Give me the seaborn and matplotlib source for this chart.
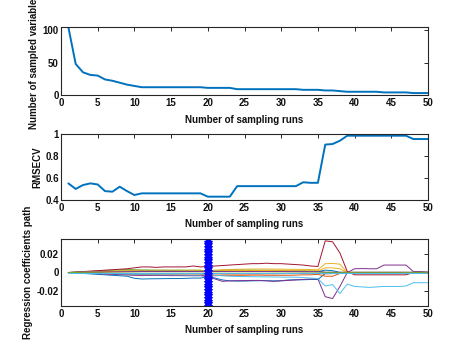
import numpy as np
import pandas as pd
import matplotlib
matplotlib.use("Agg")
import matplotlib.pyplot as plt
import seaborn as sns

# ---------------- data ----------------
runs = list(range(1, 51))

n_vars = [105, 48, 35, 31, 30, 24, 22, 19, 16, 14,
          12, 12, 12, 12, 12, 12, 12, 12, 12, 11,
          11, 11, 11, 9, 9, 9, 9, 9, 9, 9,
          9, 9, 8, 8, 8, 7, 7, 6, 5, 5,
          5, 5, 5, 4, 4, 4, 4, 3, 3, 3]

rmsecv = [0.55, 0.50, 0.535, 0.55, 0.54, 0.48, 0.475, 0.52, 0.48, 0.445,
          0.46, 0.46, 0.46, 0.46, 0.46, 0.46, 0.46, 0.46, 0.46, 0.43,
          0.43, 0.43, 0.43, 0.525, 0.525, 0.525, 0.525, 0.525, 0.525, 0.525,
          0.525, 0.525, 0.56, 0.555, 0.555, 0.90, 0.905, 0.935, 0.98, 0.98,
          0.98, 0.98, 0.98, 0.98, 0.98, 0.98, 0.98, 0.95, 0.95, 0.95]

coef_1 = [0, -0.0005, -0.001, -0.0015, -0.002, -0.0025, -0.003, -0.0035, -0.004, -0.0062,
          -0.007, -0.0068, -0.0067, -0.0066, -0.0065, -0.0065, -0.0063, -0.006, -0.006, -0.0045,
          -0.006, -0.008, -0.009, -0.0092, -0.0092, -0.009, -0.0088, -0.0088, -0.009, -0.0088,
          -0.008, -0.0078, -0.0078, -0.0075, -0.0075, -0.001, -0.0005, 0, 0, 0,
          0, 0, 0, 0, 0, 0, 0, 0, 0, 0]
coef_2 = [0, -0.0002, -0.0005, -0.0008, -0.001, -0.0013, -0.0016, -0.0018, -0.002, -0.0025,
          -0.003, -0.003, -0.003, -0.0032, -0.0033, -0.0033, -0.0033, -0.0032, -0.003, -0.0035,
          -0.0035, -0.003, -0.003, -0.003, -0.003, -0.0028, -0.0028, -0.003, -0.003, -0.003,
          -0.003, -0.0028, -0.0025, -0.0025, -0.002, -0.004, -0.004, -0.001, 0, 0,
          0, 0, 0, 0, 0, 0, 0, 0, 0, 0]
coef_3 = [0, 0.0003, 0.0006, 0.0009, 0.0012, 0.0015, 0.0017, 0.0019, 0.002, 0.0022,
          0.0022, 0.0022, 0.0023, 0.0023, 0.0023, 0.0024, 0.0024, 0.0025, 0.0025, 0.002,
          0.0025, 0.003, 0.0032, 0.0035, 0.0036, 0.0037, 0.0038, 0.0038, 0.0037, 0.0036,
          0.0035, 0.0034, 0.0033, 0.0032, 0.003, 0.0095, 0.0097, 0.009, 0, 0,
          0, 0, 0, 0, 0, 0, 0, 0, 0, 0]
coef_4 = [0, -0.0003, -0.0006, -0.001, -0.0013, -0.0016, -0.002, -0.0023, -0.0026, -0.003,
          -0.003, -0.003, -0.003, -0.0032, -0.0033, -0.0033, -0.0034, -0.0035, -0.0035, -0.004,
          -0.007, -0.0095, -0.009, -0.0088, -0.0087, -0.0085, -0.0085, -0.009, -0.0095, -0.009,
          -0.0085, -0.008, -0.0075, -0.007, -0.007, -0.026, -0.028, -0.015, 0.0, 0.004,
          0.0042, 0.004, 0.004, 0.008, 0.008, 0.008, 0.008, 0.001, 0.001, 0.0005]
coef_5 = [0, 0.0004, 0.0008, 0.0012, 0.0016, 0.002, 0.0025, 0.003, 0.0032, 0.003,
          0.0028, 0.0027, 0.0026, 0.0026, 0.0025, 0.0025, 0.0024, 0.0024, 0.0023, 0.0015,
          0.002, 0.0022, 0.0024, 0.0025, 0.0025, 0.0025, 0.0024, 0.0024, 0.0023, 0.0022,
          0.002, 0.002, 0.0018, 0.0016, 0.0015, 0.0003, 0.0003, 0.0003, 0.0003, 0.0003,
          0.0003, 0.0003, 0.0003, 0.0003, 0.0003, 0.0003, 0.0003, 0.0003, 0.0003, 0.0003]
coef_6 = [0, -0.0002, -0.0004, -0.0006, -0.0008, -0.001, -0.0012, -0.0014, -0.0016, -0.002,
          -0.0022, -0.0023, -0.0024, -0.0025, -0.0025, -0.0026, -0.0027, -0.0028, -0.0028, -0.001,
          -0.003, -0.0035, -0.004, -0.0042, -0.0044, -0.0045, -0.0046, -0.0047, -0.0048, -0.0049,
          -0.005, -0.005, -0.0055, -0.006, -0.0065, -0.0145, -0.013, -0.0225, -0.0125, -0.015,
          -0.0155, -0.016, -0.0155, -0.015, -0.015, -0.015, -0.0145, -0.011, -0.011, -0.011]
coef_7 = [0, 0.0005, 0.001, 0.0015, 0.002, 0.0025, 0.003, 0.0035, 0.004, 0.005,
          0.006, 0.006, 0.0055, 0.006, 0.006, 0.006, 0.006, 0.007, 0.006, 0.0065,
          0.007, 0.0075, 0.008, 0.0085, 0.009, 0.0095, 0.0095, 0.01, 0.0095, 0.0095,
          0.009, 0.0085, 0.008, 0.007, 0.0065, 0.034, 0.033, 0.021, 0.001, -0.0025,
          -0.0025, -0.0025, -0.0025, -0.0025, -0.0025, -0.0025, -0.0025, 0, 0, 0]
coef_8 = [0, 0.0002, 0.0004, 0.0006, 0.0008, 0.001, 0.0011, 0.0012, 0.0013, 0.0014,
          0.0015, 0.0015, 0.0015, 0.0016, 0.0016, 0.0016, 0.0016, 0.0016, 0.0016, 0.001,
          0.0015, 0.0016, 0.0016, 0.0017, 0.0017, 0.0017, 0.0016, 0.0016, 0.0015, 0.0015,
          0.0014, 0.0013, 0.0012, 0.0011, 0.001, 0.0025, 0.002, 0, 0, 0,
          0, 0, 0, 0, 0, 0, 0, 0, 0, 0]
coef_9 = [0, -0.0001, -0.0003, -0.0005, -0.0007, -0.0009, -0.001, -0.0011, -0.0012, -0.0013,
          -0.0014, -0.0014, -0.0014, -0.0015, -0.0015, -0.0015, -0.0015, -0.0015, -0.0015, -0.0012,
          -0.0015, -0.0016, -0.0016, -0.0016, -0.0016, -0.0015, -0.0015, -0.0014, -0.0014, -0.0013,
          -0.0012, -0.0011, -0.001, -0.001, -0.0009, -0.0015, -0.0012, 0, 0, 0,
          0, 0, 0, 0, 0, 0, 0, 0, 0, 0]
coef_10 = [0, 0.0002, 0.0004, 0.0006, 0.0008, 0.001, 0.0012, 0.0014, 0.0015, 0.0016,
           0.0016, 0.0016, 0.0017, 0.0017, 0.0017, 0.0017, 0.0018, 0.0018, 0.0018, 0.0012,
           0.0018, 0.002, 0.0021, 0.0022, 0.0022, 0.0022, 0.0022, 0.0021, 0.0021, 0.002,
           0.002, 0.0019, 0.0018, 0.0017, 0.0016, 0.005, 0.005, 0.004, 0, 0,
           0, 0, 0, 0, 0, 0, 0, 0, 0, 0]
coef_11 = [0, 0.0001, 0.0002, 0.0003, 0.0004, 0.0005, 0.0006, 0.0007, 0.0008, 0.0009,
           0.001, 0.001, 0.001, 0.001, 0.001, 0.001, 0.001, 0.001, 0.001, 0.0008,
           0.001, 0.001, 0.001, 0.001, 0.001, 0.001, 0.001, 0.001, 0.001, 0.001,
           0.0009, 0.0009, 0.0008, 0.0008, 0.0008, 0.0002, 0.0002, 0.0002, 0.0002, 0.0002,
           0.0002, 0.0002, 0.0002, 0.0002, 0.0002, 0.0002, 0.0002, 0.0002, 0.0002, 0.0002]
coef_12 = [0, -0.0001, -0.0002, -0.0003, -0.0004, -0.0005, -0.0006, -0.0006, -0.0007, -0.0007,
           -0.0008, -0.0008, -0.0008, -0.0008, -0.0008, -0.0008, -0.0008, -0.0008, -0.0008, -0.0006,
           -0.0008, -0.0008, -0.0008, -0.0008, -0.0008, -0.0008, -0.0008, -0.0008, -0.0007, -0.0007,
           -0.0007, -0.0007, -0.0006, -0.0006, -0.0006, -0.0002, -0.0002, -0.0002, -0.0002, -0.0002,
           -0.0002, -0.0002, -0.0002, -0.0002, -0.0002, -0.0002, -0.0002, -0.0002, -0.0002, -0.0002]
coef_13 = [0, 0, 0, 0, 0, 0, 0, 0, 0, 0,
           0, 0, 0, 0, 0, 0, 0, 0, 0, 0,
           0, 0, 0, 0, 0, 0, 0, 0, 0, 0,
           0, 0, 0, 0, 0, 0, 0, 0, 0, 0,
           0, 0, 0, 0, 0, 0, 0, 0, 0, 0]

coef_paths = [coef_1, coef_2, coef_3, coef_4, coef_5, coef_6, coef_7,
              coef_8, coef_9, coef_10, coef_11, coef_12, coef_13]
matlab_colors = ["#0072BD", "#D95319", "#EDB120", "#7E2F8E", "#77AC30", "#4DBEEE", "#A2142F"]
coef_colors = [matlab_colors[i % 7] for i in range(len(coef_paths))]

best_run = 20
x_ticks = [0, 5, 10, 15, 20, 25, 30, 35, 40, 45, 50]
xlabel = "Number of sampling runs"
ylabels = ["Number of sampled variables", "RMSECV", "Regression coefficients path"]

# ---------------- style ----------------
sns.set_theme(style="white")
plt.rcParams["font.family"] = ["Liberation Sans", "DejaVu Sans"]
plt.rcParams["font.weight"] = "bold"
plt.rcParams["axes.labelweight"] = "bold"

W, H = 473, 355
fig = plt.figure(figsize=(W / 100, H / 100), dpi=100)

def px_axes(left, top, right, bottom):
    return fig.add_axes([left / W, 1 - bottom / H, (right - left) / W, (bottom - top) / H])

ax1 = px_axes(61, 27, 428, 95)
ax2 = px_axes(61, 133.5, 428, 200)
ax3 = px_axes(61, 239, 428, 306)

line_col = "#0072BD"
sns.lineplot(x=runs, y=n_vars, ax=ax1, color=line_col, lw=1.4)
sns.lineplot(x=runs, y=rmsecv, ax=ax2, color=line_col, lw=1.4)

for path, col in zip(coef_paths, coef_colors):
    sns.lineplot(x=runs, y=path, ax=ax3, color=col, lw=0.7)

ylim3 = (-0.036, 0.036)
star_y = np.linspace(ylim3[0], ylim3[1], 26)
ax3.plot([best_run] * len(star_y), star_y, color="#0000FF", marker="*",
         markersize=6.5, markeredgewidth=0.8, lw=1.0, clip_on=True)

ax1.set_ylim(0, 105)
ax1.set_yticks([0, 50, 100])
ax2.set_ylim(0.4, 1.0)
ax2.set_yticks([0.4, 0.6, 0.8, 1.0])
ax2.set_yticklabels(["0.4", "0.6", "0.8", "1"])
ax3.set_ylim(*ylim3)
ax3.set_yticks([-0.02, 0, 0.02])
ax3.set_yticklabels(["-0.02", "0", "0.02"])

label_x = [-0.074, -0.065, -0.09]
for ax, yl, lx in zip([ax1, ax2, ax3], ylabels, label_x):
    ax.set_xlim(0, 50)
    ax.set_xticks(x_ticks)
    ax.set_xticklabels([str(t) for t in x_ticks])
    for s in ax.spines.values():
        s.set_color("#262626")
        s.set_linewidth(0.8)
    ax.tick_params(direction="in", length=3, width=0.7, color="#262626",
                   top=True, right=True, labelsize=7, labelcolor="#111111")
    ax.tick_params(axis="x", pad=2)
    ax.tick_params(axis="y", pad=1.5)
    for lab in ax.get_xticklabels() + ax.get_yticklabels():
        lab.set_fontweight("bold")
    ax.set_xlabel(xlabel, fontsize=7, fontweight="bold", color="#111111")
    ax.xaxis.set_label_coords(0.5, -0.29)
    ax.xaxis.label.set_va("top")
    ax.set_ylabel(yl, fontsize=7, fontweight="bold", color="#111111")
    ax.yaxis.set_label_coords(lx, 0.5)
    ax.yaxis.label.set_va("center")
    ax.grid(False)

fig.savefig("out.png", dpi=100, facecolor="white")
